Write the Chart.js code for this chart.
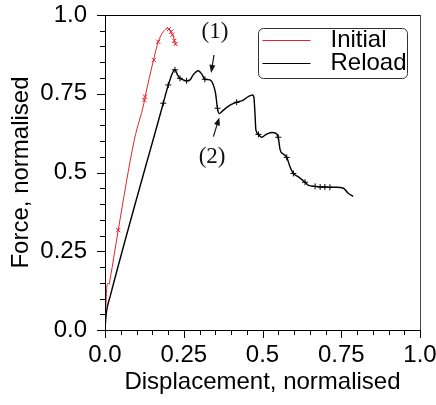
<!DOCTYPE html>
<html>
<head>
<meta charset="utf-8">
<script src="https://cdn.jsdelivr.net/npm/chart.js@4"></script>
<style>
  html, body { margin: 0; padding: 0; background: #fff; }
  canvas { display: block; }
</style>
</head>
<body>
<canvas id="chart" width="436" height="405"></canvas>
<script>
// curves, [displacement, force]
const initialCurve = [
  [0.0, 0.02], [0.003, 0.08], [0.006, 0.14], [0.01, 0.148], [0.013, 0.145], [0.016, 0.16],
  [0.042, 0.317], [0.093, 0.603], [0.124, 0.722], [0.127, 0.738], [0.154, 0.857],
  [0.169, 0.915], [0.185, 0.947], [0.196, 0.957], [0.206, 0.952], [0.211, 0.942],
  [0.217, 0.932], [0.224, 0.905]
];
const reloadCurve = [
  [0.0, 0.0], [0.002, 0.03], [0.005, 0.06], [0.016, 0.105], [0.185, 0.72], [0.201, 0.778],
  [0.222, 0.826], [0.23, 0.81], [0.238, 0.799], [0.249, 0.794], [0.259, 0.791], [0.27, 0.794],
  [0.28, 0.81], [0.296, 0.823], [0.307, 0.813], [0.317, 0.796], [0.333, 0.794], [0.344, 0.778],
  [0.351, 0.751], [0.357, 0.704], [0.362, 0.687], [0.376, 0.698], [0.392, 0.711], [0.418, 0.723],
  [0.439, 0.73], [0.455, 0.741], [0.469, 0.746], [0.473, 0.736], [0.476, 0.69], [0.479, 0.635],
  [0.487, 0.621], [0.497, 0.612], [0.513, 0.622], [0.529, 0.627], [0.543, 0.624], [0.55, 0.612],
  [0.556, 0.572], [0.566, 0.559], [0.577, 0.548], [0.587, 0.519], [0.598, 0.497], [0.614, 0.486],
  [0.635, 0.469], [0.646, 0.459], [0.667, 0.456], [0.683, 0.454], [0.698, 0.454], [0.714, 0.453],
  [0.735, 0.453], [0.757, 0.45], [0.772, 0.434], [0.788, 0.424]
];
// sample markers on the curves
const initialMarks = [
  [0.042, 0.317], [0.125, 0.73], [0.127, 0.741], [0.155, 0.857], [0.169, 0.915],
  [0.203, 0.955], [0.21, 0.947], [0.214, 0.937], [0.22, 0.918], [0.224, 0.908]
];
const reloadMarks = [
  [0.185, 0.72], [0.201, 0.778], [0.222, 0.826], [0.238, 0.799], [0.259, 0.791],
  [0.317, 0.796], [0.357, 0.704], [0.418, 0.723], [0.487, 0.621], [0.55, 0.612],
  [0.577, 0.548], [0.598, 0.497], [0.635, 0.469], [0.667, 0.456], [0.683, 0.454],
  [0.698, 0.454], [0.714, 0.453]
];
const seriesNames = ['Initial', 'Reload'];
const tickLabels = ['0.0', '0.25', '0.5', '0.75', '1.0'];
const notes = [
  { text: '(1)', at: [0.349, 0.946], from: [0.346, 0.873], to: [0.337, 0.816] },
  { text: '(2)', at: [0.340, 0.549], from: [0.344, 0.614], to: [0.363, 0.675] }
];

const RED = 'rgb(225,35,45)';
const SANS = '"Liberation Sans", Arial, sans-serif';
const toXY = arr => arr.map(p => ({x: p[0], y: p[1]}));

function arrow(ctx, x1, y1, x2, y2) {
  const a = Math.atan2(y2 - y1, x2 - x1);
  ctx.beginPath();
  ctx.moveTo(x1, y1);
  ctx.lineTo(x2 - 5 * Math.cos(a), y2 - 5 * Math.sin(a));
  ctx.stroke();
  ctx.beginPath();
  ctx.moveTo(x2, y2);
  ctx.lineTo(x2 - 8 * Math.cos(a) + 3 * Math.sin(a), y2 - 8 * Math.sin(a) - 3 * Math.cos(a));
  ctx.lineTo(x2 - 8 * Math.cos(a) - 3 * Math.sin(a), y2 - 8 * Math.sin(a) + 3 * Math.cos(a));
  ctx.closePath();
  ctx.fill();
}

// frame, outward ticks, annotations and the boxed legend
const decor = {
  id: 'decor',
  afterDraw(chart) {
    const {ctx, chartArea: ca, scales: {x, y}} = chart;
    ctx.save();
    ctx.lineWidth = 1;
    ctx.strokeStyle = '#000';
    ctx.beginPath();
    ctx.moveTo(ca.left + 0.5, ca.top + 0.5);
    ctx.lineTo(ca.left + 0.5, ca.bottom + 0.5);
    ctx.lineTo(ca.right + 0.5, ca.bottom + 0.5);
    ctx.moveTo(ca.left, ca.top + 0.5);
    ctx.lineTo(ca.right + 0.5, ca.top + 0.5);
    ctx.stroke();
    ctx.strokeStyle = '#444';
    ctx.beginPath();
    ctx.moveTo(ca.right + 0.5, ca.top);
    ctx.lineTo(ca.right + 0.5, ca.bottom);
    ctx.stroke();

    ctx.strokeStyle = '#000';
    ctx.beginPath();
    for (let i = 0; i <= 20; i++) {
      const v = i * 0.05;
      const len = i % 5 === 0 ? 8 : 5;
      const px = Math.round(x.getPixelForValue(v)) + 0.5;
      ctx.moveTo(px, ca.bottom);
      ctx.lineTo(px, ca.bottom + len);
      const py = Math.round(y.getPixelForValue(v)) + 0.5;
      ctx.moveTo(ca.left, py);
      ctx.lineTo(ca.left - len, py);
    }
    ctx.stroke();

    ctx.fillStyle = '#111';
    ctx.strokeStyle = '#111';
    ctx.lineWidth = 1.2;
    ctx.font = '23px "Liberation Serif", serif';
    ctx.textAlign = 'center';
    ctx.textBaseline = 'middle';
    notes.forEach(n => {
      ctx.fillText(n.text, x.getPixelForValue(n.at[0]), y.getPixelForValue(n.at[1]));
      arrow(ctx, x.getPixelForValue(n.from[0]), y.getPixelForValue(n.from[1]),
                 x.getPixelForValue(n.to[0]), y.getPixelForValue(n.to[1]));
    });

    const bx = ca.left + 153.5, by = ca.top + 13.5, bw = 149, bh = 50;
    ctx.lineWidth = 1;
    ctx.strokeStyle = '#333';
    ctx.fillStyle = '#fff';
    ctx.beginPath();
    ctx.roundRect(bx, by, bw, bh, 5);
    ctx.fill();
    ctx.stroke();
    const colors = [RED, '#000'];
    ctx.font = '24px ' + SANS;
    ctx.textAlign = 'left';
    seriesNames.forEach((name, i) => {
      const ly = Math.round(by + 11 + i * 23) + 0.5;
      ctx.strokeStyle = colors[i];
      ctx.beginPath();
      ctx.moveTo(bx + 4, ly);
      ctx.lineTo(bx + 52, ly);
      ctx.stroke();
      ctx.fillStyle = '#000';
      ctx.fillText(name, bx + 72, ly);
    });
    ctx.restore();
  }
};

// pin the axis boxes so the plot area lands where the reference has it
function pin(size) {
  return s => {
    if (s.isHorizontal()) s.height = size; else s.width = size;
    s.paddingTop = s.paddingBottom = s.paddingLeft = s.paddingRight = 0;
  };
}

const axisCommon = {
  type: 'linear', min: 0, max: 1,
  grid: { display: false, drawTicks: false, tickLength: 0 },
  border: { display: false },
  ticks: {
    stepSize: 0.25, autoSkip: false, maxRotation: 0, color: '#000',
    font: { family: SANS, size: 24 },
    callback: (v, i) => tickLabels[i]
  }
};

new Chart(document.getElementById('chart'), {
  type: 'scatter',
  data: {
    datasets: [
      { label: seriesNames[0], data: toXY(initialCurve), showLine: true, borderColor: RED,
        borderWidth: 1, pointRadius: 0, cubicInterpolationMode: 'monotone' },
      { label: seriesNames[1], data: toXY(reloadCurve), showLine: true, borderColor: '#000',
        borderWidth: 1.4, pointRadius: 0, cubicInterpolationMode: 'monotone' },
      { label: 'initial marks', data: toXY(initialMarks), showLine: false, pointStyle: 'crossRot',
        pointRadius: 3, borderColor: RED, borderWidth: 1 },
      { label: 'reload marks', data: toXY(reloadMarks), showLine: false, pointStyle: 'cross',
        pointRadius: 3, borderColor: '#000', borderWidth: 1 }
    ]
  },
  options: {
    responsive: false,
    animation: false,
    layout: { padding: { top: 15, right: 16, left: 0, bottom: 0 } },
    plugins: { legend: { display: false }, tooltip: { enabled: false } },
    scales: {
      x: {
        ...axisCommon,
        ticks: { ...axisCommon.ticks, padding: 11 },
        title: { display: true, text: 'Displacement, normalised', color: '#000',
                 font: { family: SANS, size: 24 }, padding: { top: 0, bottom: 8 } },
        afterFit: pin(75)
      },
      y: {
        ...axisCommon,
        ticks: { ...axisCommon.ticks, padding: 18 },
        title: { display: true, text: 'Force, normalised', color: '#000',
                 font: { family: SANS, size: 24 }, padding: { top: 7, bottom: 0 } },
        afterFit: pin(105)
      }
    }
  },
  plugins: [decor]
});
</script>
</body>
</html>
